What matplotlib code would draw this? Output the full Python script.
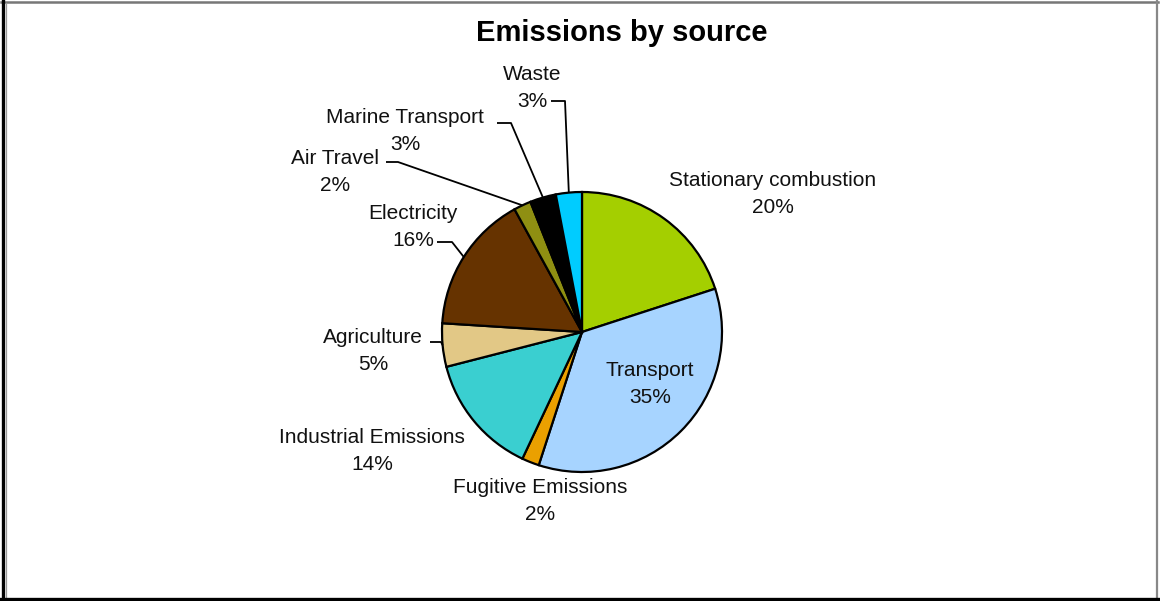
import matplotlib
matplotlib.use("Agg")
import matplotlib.pyplot as plt
from matplotlib.lines import Line2D
import numpy as np

plt.rcParams['font.family'] = ['Liberation Sans', 'DejaVu Sans']

categories = ["Stationary combustion", "Transport", "Fugitive Emissions",
              "Industrial Emissions", "Agriculture", "Electricity",
              "Air Travel", "Marine Transport", "Waste"]
values = [20, 35, 2, 14, 5, 16, 2, 3, 3]
colors = ["#a4cf00", "#a7d4ff", "#eaa000", "#3acfd0", "#e2c886",
          "#663300", "#8f8f12", "#000000", "#00ccff"]
title = "Emissions by source"

W, H = 1160, 601
fig = plt.figure(figsize=(W / 100, H / 100), dpi=100)
fig.patch.set_facecolor("white")

# pie geometry in pixels
cx, cy, R = 582, 332, 140
half = 262
ax = fig.add_axes([(cx - half) / W, (H - cy - half) / H, 2 * half / W, 2 * half / H])
lim = half / R

wedges, _ = ax.pie(values, colors=colors, startangle=90, counterclock=False,
                   radius=1, center=(0, 0),
                   wedgeprops=dict(edgecolor="black", linewidth=1.6))
ax.set_xlim(-lim, lim)
ax.set_ylim(-lim, lim)
ax.set_aspect("equal")
ax.axis("off")

def d(px, py):
    return ((px - cx) / R, (cy - py) / R)

fs = 15
# label positions (pixel centers) and optional leader start/elbow
label_pos = {
    "Stationary combustion": (773, 194),
    "Transport": (650, 384),
    "Fugitive Emissions": (540, 501),
    "Industrial Emissions": (372, 451),
    "Agriculture": (373, 351),
    "Electricity": (413, 227),
    "Air Travel": (335, 172),
    "Marine Transport": (405, 131),
    "Waste": (532, 88),
}
leaders = {
    "Waste": [(551, 101), (565, 101)],
    "Marine Transport": [(497, 123), (511, 123)],
    "Air Travel": [(386, 162), (398, 162)],
    "Electricity": [(437, 242), (452, 242)],
    "Agriculture": [(430, 342), (441, 342)],
}

for w, cat, v in zip(wedges, categories, values):
    x, y = d(*label_pos[cat])
    ax.text(x, y, f"{cat}\n{v}%", ha="center", va="center", fontsize=fs,
            linespacing=1.53, color="#111111")
    if cat in leaders:
        mid = np.deg2rad((w.theta1 + w.theta2) / 2)
        ex, ey = np.cos(mid), np.sin(mid)
        pts = [d(*p) for p in leaders[cat]] + [(ex, ey)]
        xs, ys = zip(*pts)
        ax.plot(xs, ys, color="black", linewidth=1.3, solid_capstyle="butt")

fig.text(622 / W, 1 - 33 / H, title, ha="center", va="center", fontsize=21,
         fontweight="bold", color="black")

# frame
def fl(x0, y0, x1, y1, c, lw):
    fig.add_artist(Line2D([x0 / W, x1 / W], [1 - y0 / H, 1 - y1 / H],
                          color=c, linewidth=lw, transform=fig.transFigure))

fl(1, 2, 1158, 2, "#777777", 1.8)
fl(1157, 1, 1157, 599, "#888888", 1.6)
fl(3, 0, 3, 601, "#000000", 2.4)
fl(5.5, 3, 5.5, 597, "#999999", 0.9)
fl(0, 598.5, 1160, 598.5, "#000000", 2.4)

fig.savefig("out.png", dpi=100, facecolor="white")
